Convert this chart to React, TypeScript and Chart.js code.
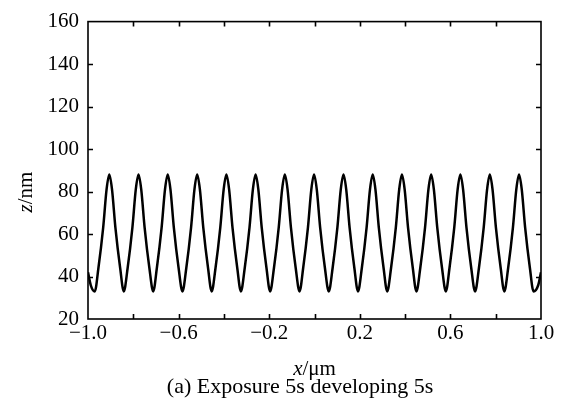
import React, { useEffect, useRef } from "react";
import { Chart, registerables } from "chart.js";

Chart.register(...registerables);

// x positions (µm) of the sampled profile
const xValues: number[] = [
  -1.0, -0.988, -0.97,
  -0.954, -0.933, -0.918, -0.906, -0.894, -0.879, -0.858, -0.842,
  -0.825, -0.804, -0.789, -0.777, -0.765, -0.75, -0.729, -0.712,
  -0.696, -0.675, -0.66, -0.648, -0.636, -0.621, -0.6, -0.583,
  -0.566, -0.545, -0.53, -0.518, -0.506, -0.491, -0.47, -0.454,
  -0.437, -0.416, -0.401, -0.389, -0.377, -0.362, -0.341, -0.325,
  -0.308, -0.287, -0.272, -0.26, -0.248, -0.233, -0.212, -0.196,
  -0.179, -0.158, -0.143, -0.131, -0.119, -0.104, -0.083, -0.066,
  -0.05, -0.029, -0.014, -0.002, 0.01, 0.025, 0.046, 0.063,
  0.08, 0.101, 0.116, 0.128, 0.14, 0.155, 0.176, 0.192,
  0.209, 0.23, 0.245, 0.257, 0.269, 0.284, 0.305, 0.321,
  0.338, 0.359, 0.374, 0.386, 0.398, 0.413, 0.434, 0.45,
  0.467, 0.488, 0.503, 0.515, 0.527, 0.542, 0.563, 0.58,
  0.596, 0.617, 0.632, 0.644, 0.656, 0.671, 0.692, 0.709,
  0.726, 0.747, 0.762, 0.774, 0.786, 0.801, 0.822, 0.838,
  0.855, 0.876, 0.891, 0.903, 0.915, 0.93, 0.951, 0.967,
  0.988, 1.0,
];

// surface height z (nm)
const zValues: number[] = [
  42, 36, 33,
  44, 63, 81, 88, 81, 63, 44, 33,
  44, 63, 81, 88, 81, 63, 44, 33,
  44, 63, 81, 88, 81, 63, 44, 33,
  44, 63, 81, 88, 81, 63, 44, 33,
  44, 63, 81, 88, 81, 63, 44, 33,
  44, 63, 81, 88, 81, 63, 44, 33,
  44, 63, 81, 88, 81, 63, 44, 33,
  44, 63, 81, 88, 81, 63, 44, 33,
  44, 63, 81, 88, 81, 63, 44, 33,
  44, 63, 81, 88, 81, 63, 44, 33,
  44, 63, 81, 88, 81, 63, 44, 33,
  44, 63, 81, 88, 81, 63, 44, 33,
  44, 63, 81, 88, 81, 63, 44, 33,
  44, 63, 81, 88, 81, 63, 44, 33,
  44, 63, 81, 88, 81, 63, 44, 33,
  36, 42,
];

const xTickValues: number[] = [-1.0, -0.8, -0.6, -0.4, -0.2, 0, 0.2, 0.4, 0.6, 0.8, 1.0];
const xTickLabels: string[] = ["−1.0", "", "−0.6", "", "−0.2", "", "0.2", "", "0.6", "", "1.0"];
const yTickValues: number[] = [20, 40, 60, 80, 100, 120, 140, 160];

const FONT = "'Liberation Serif', 'Times New Roman', serif";
const TICK_SIZE = 21;
const LABEL_SIZE = 21;
const CAPTION_SIZE = 22;

export default function App() {
  const ref = useRef<HTMLCanvasElement>(null);

  useEffect(() => {
    if (!ref.current) return;
    const framePlugin = {
      id: "frame",
      afterDraw(chart: any) {
        const ctx = chart.ctx;
        const { left, right, top, bottom } = chart.chartArea;
        const xs = chart.scales.x;
        const ys = chart.scales.y;
        ctx.save();
        ctx.strokeStyle = "#000";
        ctx.lineWidth = 1.6;
        ctx.strokeRect(left, top, right - left, bottom - top);
        ctx.beginPath();
        const tl = 5;
        xTickValues.slice(1, -1).forEach((v) => {
          const px = Math.round(xs.getPixelForValue(v)) + 0.5;
          ctx.moveTo(px, bottom);
          ctx.lineTo(px, bottom - tl);
          ctx.moveTo(px, top);
          ctx.lineTo(px, top + tl);
        });
        yTickValues.slice(1, -1).forEach((v) => {
          const py = Math.round(ys.getPixelForValue(v)) + 0.5;
          ctx.moveTo(left, py);
          ctx.lineTo(left + tl, py);
          ctx.moveTo(right, py);
          ctx.lineTo(right - tl, py);
        });
        ctx.stroke();

        ctx.fillStyle = "#000";
        ctx.textBaseline = "alphabetic";
        // x axis title
        ctx.font = `italic ${LABEL_SIZE}px ${FONT}`;
        const w1 = ctx.measureText("x").width;
        ctx.font = `${LABEL_SIZE}px ${FONT}`;
        const w2 = ctx.measureText("/μm").width;
        const start = (left + right) / 2 - (w1 + w2) / 2;
        ctx.textAlign = "left";
        ctx.font = `italic ${LABEL_SIZE}px ${FONT}`;
        ctx.fillText("x", start, 375);
        ctx.font = `${LABEL_SIZE}px ${FONT}`;
        ctx.fillText("/μm", start + w1, 375);

        // y axis title
        ctx.save();
        ctx.translate(32, 192);
        ctx.rotate(-Math.PI / 2);
        ctx.font = `italic ${LABEL_SIZE}px ${FONT}`;
        const z1 = ctx.measureText("z").width;
        ctx.font = `${LABEL_SIZE}px ${FONT}`;
        const z2 = ctx.measureText("/nm").width;
        const s = -(z1 + z2) / 2;
        ctx.textAlign = "left";
        ctx.font = `italic ${LABEL_SIZE}px ${FONT}`;
        ctx.fillText("z", s, 0);
        ctx.font = `${LABEL_SIZE}px ${FONT}`;
        ctx.fillText("/nm", s + z1, 0);
        ctx.restore();

        // caption
        ctx.textAlign = "center";
        ctx.font = `${CAPTION_SIZE}px ${FONT}`;
        ctx.fillText("(a) Exposure 5s developing 5s", 300, 393);
        ctx.restore();
      },
    };

    const chart = new Chart(ref.current, {
      type: "line",
      data: {
        datasets: [
          {
            data: xValues.map((x, i) => ({ x, y: zValues[i] })),
            borderColor: "#000",
            borderWidth: 2.5,
            pointRadius: 0,
            fill: false,
            cubicInterpolationMode: "monotone",
          },
        ],
      },
      options: {
        responsive: false,
        animation: false,
        devicePixelRatio: 1,
        layout: { padding: { left: 0, top: 19, right: 26, bottom: 0 } },
        plugins: { legend: { display: false }, tooltip: { enabled: false } },
        scales: {
          x: {
            type: "linear",
            min: -1,
            max: 1,
            grid: { display: false, drawTicks: false },
            border: { display: false },
            afterFit: (scale: any) => {
              scale.height = 80;
            },
            afterBuildTicks: (scale: any) => {
              scale.ticks = xTickValues.map((v) => ({ value: v }));
            },
            ticks: {
              color: "#000",
              padding: 2,
              maxRotation: 0,
              autoSkip: false,
              font: { family: FONT, size: TICK_SIZE },
              callback: (_v: any, i: number) => xTickLabels[i],
            },
          },
          y: {
            type: "linear",
            min: 20,
            max: 160,
            grid: { display: false, drawTicks: false },
            border: { display: false },
            afterFit: (scale: any) => {
              scale.width = 88;
            },
            afterBuildTicks: (scale: any) => {
              scale.ticks = yTickValues.map((v) => ({ value: v }));
            },
            ticks: {
              color: "#000",
              padding: 9,
              autoSkip: false,
              font: { family: FONT, size: TICK_SIZE },
              callback: (v: any) => String(v),
            },
          },
        },
      },
      plugins: [framePlugin],
    } as any);
    return () => chart.destroy();
  }, []);

  return (
    <div style={{ position: "fixed", left: 0, top: 0, width: 567, height: 399, background: "#fff" }}>
      <canvas ref={ref} width={567} height={399} />
    </div>
  );
}
